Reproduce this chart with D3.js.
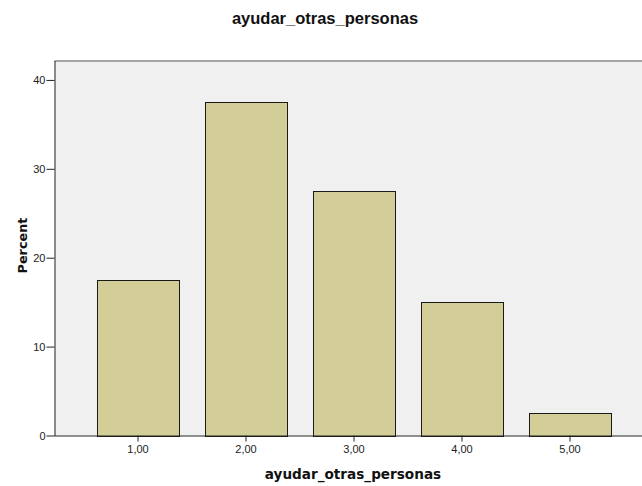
<!DOCTYPE html>
<html><head><meta charset="utf-8">
<script src="https://cdn.jsdelivr.net/npm/d3@7"></script>
<style>body{margin:0;background:#fff}svg{display:block;font-family:"Liberation Sans",Arial,sans-serif}</style>
</head><body><svg id="c" width="642" height="486"></svg>
<script>
const categories = ["1,00","2,00","3,00","4,00","5,00"];
const percents = [17.5, 37.5, 27.5, 15.0, 2.5];
const yTicks = [0,10,20,30,40];
const title = "ayudar_otras_personas";
const xTitle = "ayudar_otras_personas";
const yTitle = "Percent";

const svg = d3.select("#c");
const plotL = 54.5, plotR = 642, plotT = 61, plotB = 435.5;
const x = d3.scaleBand().domain(categories).range([84, 624]).paddingInner(0.245).paddingOuter(0.1225);
const y = d3.scaleLinear().domain([0, 42.13]).range([plotB, plotT]);

svg.append("rect").attr("x", plotL).attr("y", plotT).attr("width", plotR - plotL).attr("height", plotB - plotT).attr("fill", "#f0f0f0");
svg.append("line").attr("x1", plotL).attr("x2", plotR).attr("y1", plotT).attr("y2", plotT).attr("stroke", "#8a8a8a").attr("stroke-width", 1.5);

svg.selectAll("rect.bar").data(percents).join("rect").attr("class","bar")
  .attr("x", (d,i) => Math.round(x(categories[i])) + 0.5)
  .attr("y", d => Math.round(y(d)) + 0.5)
  .attr("width", Math.round(x.bandwidth()))
  .attr("height", d => Math.round(plotB) - Math.round(y(d)))
  .attr("fill", "#d3ce97").attr("stroke", "#1a1a1a").attr("stroke-width", 1);

const yAxis = svg.append("g").attr("transform", `translate(${plotL},0)`)
  .call(d3.axisLeft(y).tickValues(yTicks).tickFormat(d3.format("d")).tickSize(8).tickPadding(1));
const xAxis = svg.append("g").attr("transform", `translate(0,${plotB})`)
  .call(d3.axisBottom(x).tickSize(6).tickPadding(4).tickSizeOuter(0));
xAxis.select(".domain").attr("d", `M${plotL},0.5H${plotR}`);
[yAxis, xAxis].forEach(g => {
  g.selectAll("path,line").attr("stroke", "#222");
  g.selectAll("text").attr("fill", "#222").style("font-size", "11px").style("font-family", '"Liberation Sans",Arial,sans-serif');
});
yAxis.select(".domain").attr("d", `M0.5,${plotT}V${plotB+0.5}`);

svg.append("text").attr("x", 325).attr("y", 24).attr("text-anchor","middle")
  .style("font-weight","bold").style("font-size","16.5px").attr("fill","#111").text(title);
svg.append("text").attr("x", 353).attr("y", 479).attr("text-anchor","middle")
  .style("font-family",'"DejaVu Sans",Verdana,sans-serif')
  .style("font-weight","bold").style("font-size","13.6px").attr("fill","#111").text(xTitle);
svg.append("text").attr("transform", `translate(26.5,245.5) rotate(-90)`).attr("text-anchor","middle")
  .style("font-family",'"DejaVu Sans",Verdana,sans-serif')
  .style("font-weight","bold").style("font-size","12.8px").attr("fill","#111").text(yTitle);
</script></body></html>
